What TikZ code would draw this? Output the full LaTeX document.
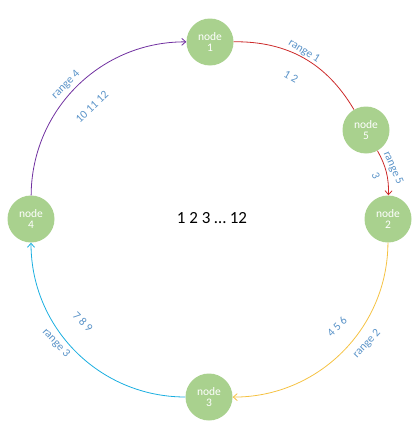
\documentclass[tikz,border=0pt]{standalone}
\usepackage{fontspec}
\setmainfont{Carlito}
\usetikzlibrary{arrows.meta}
\definecolor{nodegreen}{HTML}{A9D18E}
\definecolor{lblblue}{HTML}{5A93C8}
\definecolor{arcred}{HTML}{CC2A2A}
\definecolor{arcgold}{HTML}{F5C242}
\definecolor{arccyan}{HTML}{1AAEE0}
\definecolor{arcpurple}{HTML}{7030A0}
\tikzset{
  ringnode/.style={circle,fill=nodegreen,minimum size=47pt,inner sep=0pt,text=white,align=center,font=\fontsize{11.5}{11.5}\selectfont},
  arcline/.style={line width=0.8pt},
  tip/.style={-{Straight Barb[length=4pt,width=7pt]}},
  lbl/.style={text=lblblue,font=\fontsize{11.5}{12}\selectfont,inner sep=0pt}
}
\begin{document}
\begin{tikzpicture}[x=1pt,y=1pt]
\useasboundingbox (0,0) rectangle (417,-431);
\node[ringnode] (n1) at (210,-42) {node\\1};
\node[ringnode] (n5) at (366,-130) {node\\5};
\node[ringnode] (n2) at (388,-219) {node\\2};
\node[ringnode] (n3) at (209,-397) {node\\3};
\node[ringnode] (n4) at (31,-219) {node\\4};
\draw[arcline,arcred] (n1) to[bend left=30] (n5);
\draw[arcline,arcred,tip] (n5) to[bend left=15] (n2);
\draw[arcline,arcgold,tip] (n2) to[bend left=45] (n3);
\draw[arcline,arccyan,tip] (n3) to[bend left=45] (n4);
\draw[arcline,arcpurple,tip] (n4) to[bend left=45] (n1);
\node[font=\fontsize{17}{20}\selectfont] (c) at (212,-218) {1 2 3 … 12};
\node[lbl,rotate=-32] (r1) at (304,-51) {range 1};
\node[lbl,rotate=-30] (k1) at (291,-77) {1 2};
\node[lbl,rotate=-67] (r5) at (393,-168) {range 5};
\node[lbl,rotate=-67] (k5) at (376,-176) {3};
\node[lbl,rotate=47] (r2) at (367,-344) {range 2};
\node[lbl,rotate=45] (k2) at (337,-327) {4 5 6};
\node[lbl,rotate=-47] (r3) at (56,-343) {range 3};
\node[lbl,rotate=-45] (k3) at (83,-322) {7 8 9};
\node[lbl,rotate=45] (r4) at (66,-85) {range 4};
\node[lbl,rotate=43] (k4) at (92,-107) {10 11 12};
\end{tikzpicture}
\end{document}
